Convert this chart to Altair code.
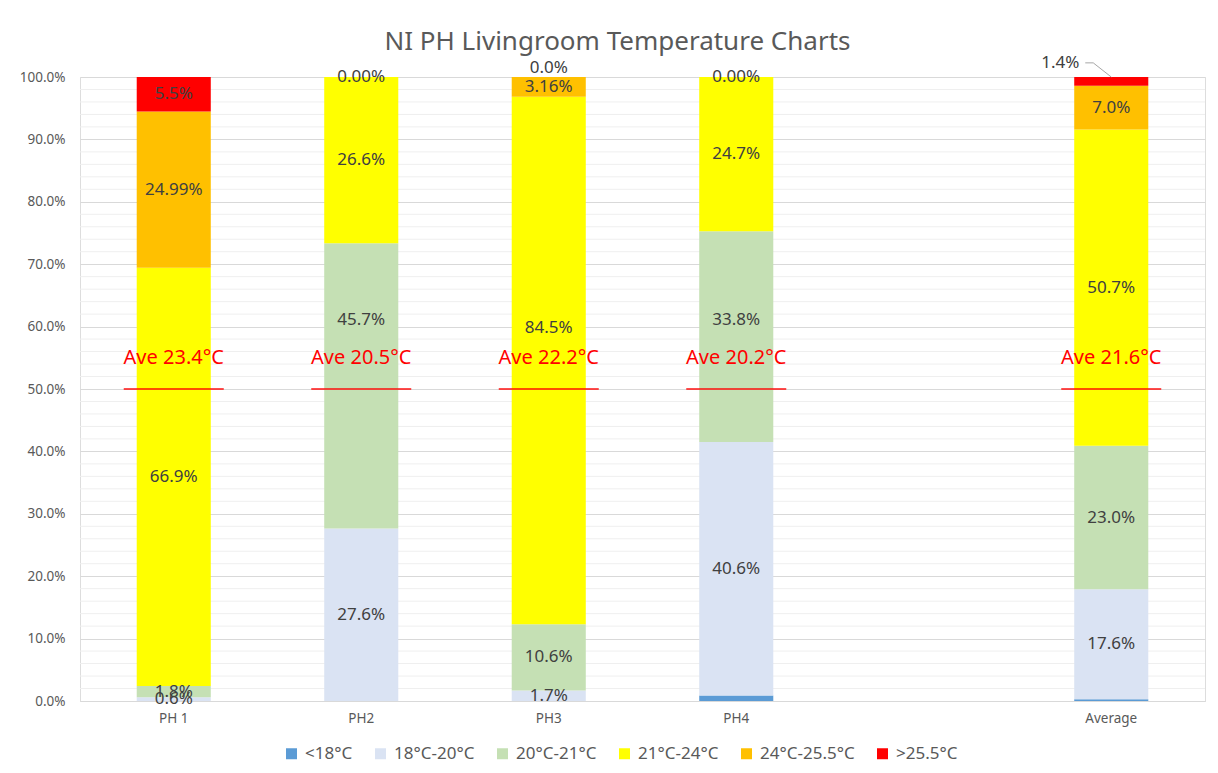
import altair as alt
import pandas as pd

# ---------------- data ----------------
categories = ["PH 1", "PH2", "PH3", "PH4", "Average"]
axis_slots = ["PH 1", "PH2", "PH3", "PH4", " ", "Average"]

series = ["<18°C", "18°C-20°C", "20°C-21°C", "21°C-24°C", "24°C-25.5°C", ">25.5°C"]
colors = ["#5B9BD5", "#DAE3F3", "#C5E0B4", "#FFFF00", "#FFC000", "#FF0000"]

v_lt18 = [0.0, 0.0, 0.0, 0.9, 0.3]
v_18_20 = [0.6, 27.6, 1.7, 40.6, 17.6]
v_20_21 = [1.8, 45.7, 10.6, 33.8, 23.0]
v_21_24 = [66.9, 26.6, 84.5, 24.7, 50.7]
v_24_255 = [24.99, 0.0, 3.16, 0.0, 7.0]
v_gt255 = [5.5, 0.0, 0.0, 0.0, 1.4]

l_lt18 = ["", "", "", "", ""]
l_18_20 = ["0.6%", "27.6%", "1.7%", "40.6%", "17.6%"]
l_20_21 = ["1.8%", "45.7%", "10.6%", "33.8%", "23.0%"]
l_21_24 = ["66.9%", "26.6%", "84.5%", "24.7%", "50.7%"]
l_24_255 = ["24.99%", "0.00%", "3.16%", "0.00%", "7.0%"]
l_gt255 = ["5.5%", "", "0.0%", "", "1.4%"]

ave_labels = ["Ave 23.4°C", "Ave 20.5°C", "Ave 22.2°C", "Ave 20.2°C", "Ave 21.6°C"]

values = [v_lt18, v_18_20, v_20_21, v_21_24, v_24_255, v_gt255]
labels = [l_lt18, l_18_20, l_20_21, l_21_24, l_24_255, l_gt255]

# label nudges (pixels, as moved by hand in the original)
nudge_dy = {("PH2", "20°C-21°C"): -66, ("PH3", "21°C-24°C"): -32, ("PH4", "20°C-21°C"): -17,
            ("PH3", ">25.5°C"): -9, ("Average", ">25.5°C"): -18.5}
callout_keys = [("Average", ">25.5°C")]
callout_dx = -51

PLOT_H = 624

# ---------------- build table (100% stacked) ----------------
rows = []
for ci, cat in enumerate(categories):
    total = sum(v[ci] for v in values)
    cum = 0.0
    for si, s in enumerate(series):
        frac = values[si][ci] / total
        mid = cum + frac / 2
        k = (cat, s)
        rows.append(dict(cat=cat, series=s, order=si, y0=cum, y1=cum + frac,
                         ly=mid - nudge_dy.get(k, 0) / PLOT_H, label=labels[si][ci],
                         callout=k in callout_keys))
        cum += frac
df = pd.DataFrame(rows)

df_call = df[df["callout"]].copy()
df_call["ytop"] = df_call["y1"]

ave_df = pd.DataFrame({"cat": categories, "text": ave_labels, "y": [0.5] * len(categories)})

minor = pd.DataFrame({"g": [i / 50 for i in range(51) if i % 5 != 0]})

FONT = "Noto Sans"
TXT = "#404040"

x_enc = alt.X(
    "cat:N",
    sort=axis_slots,
    scale=alt.Scale(domain=axis_slots, paddingInner=0.605, paddingOuter=0.3025),
    axis=alt.Axis(title=None, labelAngle=0, ticks=False, domainColor="#D9D9D9",
                  labelColor="#595959", labelFontSize=13.5, labelPadding=10, labelFont=FONT),
)
y_scale = alt.Scale(domain=[0, 1], nice=False)
y_axis = alt.Axis(format=".1%", values=[i / 10 for i in range(11)], title=None, domain=False,
                  ticks=False, labelColor="#595959", labelFontSize=13.5, labelPadding=15,
                  gridColor="#D9D9D9", labelFont=FONT)

grid_minor = alt.Chart(minor).mark_rule(color="#EFEFEF", strokeWidth=1).encode(
    y=alt.Y("g:Q", scale=y_scale, axis=y_axis)
)

bars = alt.Chart(df).mark_bar().encode(
    x=x_enc,
    y=alt.Y("y0:Q", scale=y_scale, axis=y_axis),
    y2="y1:Q",
    color=alt.Color(
        "series:N",
        scale=alt.Scale(domain=series, range=colors),
        legend=alt.Legend(title=None, orient="none", legendX=203, legendY=668,
                          direction="horizontal", columns=6, symbolType="square",
                          symbolSize=121, symbolStrokeWidth=0, labelFontSize=17,
                          labelColor="#595959", columnPadding=19, labelOffset=5,
                          padding=0, labelFont=FONT),
    ),
    order=alt.Order("order:Q"),
)

text_normal = alt.Chart(df[(~df["callout"]) & (df["label"] != "")]).mark_text(
    fontSize=17, color=TXT, font=FONT
).encode(x=x_enc, y=alt.Y("ly:Q", scale=y_scale), text="label:N")

text_call = alt.Chart(df_call).mark_text(
    fontSize=17, color=TXT, font=FONT, dx=callout_dx
).encode(x=x_enc, y=alt.Y("ly:Q", scale=y_scale), text="label:N")

lead_h = alt.Chart(df_call).mark_rule(color="#A6A6A6", strokeWidth=1, xOffset=-26, x2Offset=-18).encode(
    x=x_enc, x2="cat:N", y=alt.Y("ly:Q", scale=y_scale), y2="ly:Q"
)
lead_d = alt.Chart(df_call).mark_rule(color="#A6A6A6", strokeWidth=1, xOffset=-18, x2Offset=0).encode(
    x=x_enc, x2="cat:N", y=alt.Y("ly:Q", scale=y_scale), y2="ytop:Q"
)

ave_lines = alt.Chart(ave_df).mark_tick(color="#FF0000", size=100, thickness=2).encode(
    x=x_enc, y=alt.Y("y:Q", scale=y_scale)
)
ave_text = alt.Chart(ave_df).mark_text(color="#FF0000", fontSize=20, dy=-31, font=FONT).encode(
    x=x_enc, y=alt.Y("y:Q", scale=y_scale), text="text:N"
)

chart = alt.layer(
    grid_minor, bars, text_normal, text_call, lead_h, lead_d, ave_lines, ave_text
).properties(
    width=1125,
    height=624,
    autosize=alt.AutoSizeParams(type="none"),
    padding={"left": 72, "top": 69, "right": 5, "bottom": 64},
    title=alt.TitleParams("NI PH Livingroom Temperature Charts", fontSize=26, fontWeight="normal",
                          color="#595959", frame="group", dx=-25, dy=13, offset=12, font=FONT),
).configure_view(stroke=None).configure(font=FONT)

chart.save("out.html", embed_options={"renderer": "svg", "actions": False})
